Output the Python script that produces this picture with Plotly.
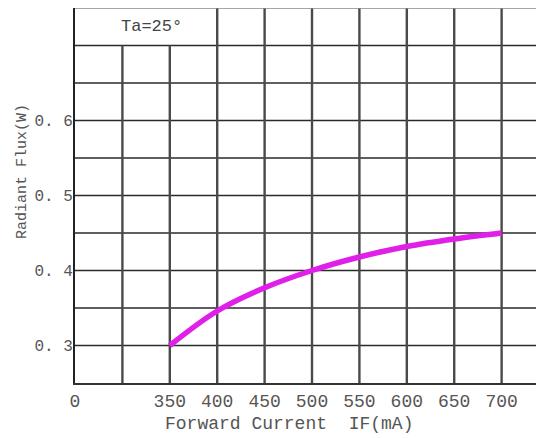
import plotly.graph_objects as go

current_ma = [350, 400, 450, 500, 550, 600, 650, 700]
radiant_flux_w = [0.300, 0.346, 0.377, 0.400, 0.418, 0.432, 0.442, 0.450]

x_tick_vals = [250, 300, 350, 400, 450, 500, 550, 600, 650, 700]
x_tick_text = ["0", "", "350", "400", "450", "500", "550", "600", "650", "700"]
y_tick_vals = [0.3, 0.4, 0.5, 0.6]
y_tick_text = ["0. 3", "0. 4", "0. 5", "0. 6"]
h_grid = [0.30, 0.35, 0.40, 0.45, 0.50, 0.55, 0.60, 0.65, 0.70]
v_grid_full = [400, 450, 500, 550, 600, 650, 700]
v_grid_short = [300, 350]

FONT = "Liberation Mono"
OFF = 8  # default page body margin
W, H = 544 - OFF, 438 - OFF
L, R, T, B = 67, 0, 0, 55
PW, PH = W - L - R, H - T - B


def px(xp):
    return (xp - OFF - L) / PW


def py(yp):
    return (H - B - (yp - OFF)) / PH


fig = go.Figure()
fig.add_trace(go.Scatter(x=current_ma, y=radiant_flux_w, mode="lines",
                         line=dict(color="#e020e8", width=5.5, shape="spline", smoothing=1.0),
                         showlegend=False, hoverinfo="skip"))

shapes = []
for y in h_grid:
    shapes.append(dict(type="line", xref="x", yref="y", x0=250, x1=760, y0=y, y1=y,
                       line=dict(color="#2a2a2a", width=1.6), layer="below"))
for x in v_grid_full:
    shapes.append(dict(type="line", xref="x", yref="y", x0=x, x1=x, y0=0.25, y1=0.75,
                       line=dict(color="#4a4a4a", width=2.4), layer="below"))
for x in v_grid_short:
    shapes.append(dict(type="line", xref="x", yref="y", x0=x, x1=x, y0=0.25, y1=0.70,
                       line=dict(color="#4a4a4a", width=2.4), layer="below"))
shapes.append(dict(type="line", xref="x", yref="y", x0=250, x1=760, y0=0.75, y1=0.75,
                   line=dict(color="#888888", width=1.5), layer="below"))

fig.update_layout(
    width=W, height=H,
    margin=dict(l=L, r=R, t=T, b=B, autoexpand=False),
    paper_bgcolor="white", plot_bgcolor="white",
    shapes=shapes,
    font=dict(family=FONT, color="#555555"),
    xaxis=dict(range=[250, 744.7], tickvals=x_tick_vals, ticktext=x_tick_text,
               showgrid=False, zeroline=False, showline=True, linecolor="#333333",
               linewidth=2, ticks="", automargin=False,
               tickfont=dict(size=18, family=FONT, color="#555555")),
    yaxis=dict(range=[0.25, 0.75], tickvals=y_tick_vals, ticktext=y_tick_text,
               showgrid=False, zeroline=False, showline=True, linecolor="#222222",
               linewidth=2, ticks="", ticklabelstandoff=-3, automargin=False,
               tickfont=dict(size=16, family=FONT, color="#555555")),
    annotations=[
        dict(text="Ta=25°", x=px(151), y=py(27), xref="paper", yref="paper", showarrow=False,
             xanchor="center", yanchor="middle",
             font=dict(size=17, family=FONT, color="#444444")),
        dict(text="Forward Current  IF(mA)", x=px(289), y=py(424), xref="paper", yref="paper",
             xanchor="center", yanchor="middle", showarrow=False,
             font=dict(size=18, family=FONT, color="#555555")),
        dict(text="Radiant Flux(W)", x=px(22), y=py(172), xref="paper", yref="paper",
             xanchor="center", yanchor="middle", showarrow=False, textangle=-90,
             font=dict(size=15, family=FONT, color="#555555")),
    ],
)

fig.write_html("out.html")
